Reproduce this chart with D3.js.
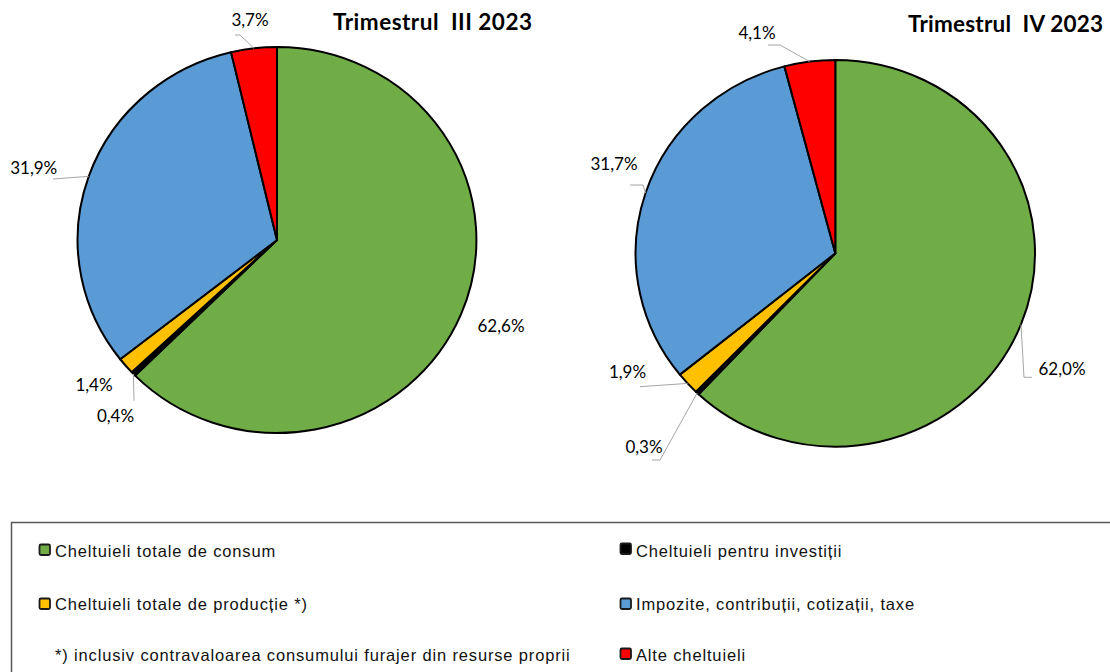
<!DOCTYPE html>
<html><head><meta charset="utf-8">
<script src="https://cdn.jsdelivr.net/npm/d3@7"></script>
<style>
html,body{margin:0;padding:0;background:#fff;}
svg{display:block;}
</style></head>
<body>
<svg id="chart" width="1110" height="672"></svg>
<script>
// ---------- data ----------
const categories = [
  "Cheltuieli totale de consum",
  "Cheltuieli pentru investiții",
  "Cheltuieli totale de producție *)",
  "Impozite, contribuții, cotizații, taxe",
  "Alte cheltuieli"
];
const seriesQ3 = [62.6, 0.4, 1.4, 31.9, 3.7];
const seriesQ4 = [62.0, 0.3, 1.9, 31.7, 4.1];
const titles = ["Trimestrul  III 2023", "Trimestrul  IV 2023"];
const footnote = "*) inclusiv contravaloarea consumului furajer din resurse proprii";
const colors = ["#70AD47", "#000000", "#FFC000", "#5B9BD5", "#FF0000"];

// ---------- layout ----------
const pies = [
  {values: seriesQ3, title: titles[0], cx: 277, cy: 240, rx: 199.4, ry: 193,
   titleX: 333, titleY: 29.5, titleW: 199,
   labels: [
     {dx: 224, dy: 91.5, leader: null},
     {dx: -161.5, dy: 181.5, leader: [[-143, 160.7]]},
     {dx: -183, dy: 150.5, leader: null},
     {dx: -243.3, dy: -66, leader: [[-224, -61]]},
     {dx: -27, dy: -214, leader: [[-37, -205], [-42, -205]]}
   ]},
  {values: seriesQ4, title: titles[1], cx: 835.3, cy: 253.3, rx: 199.7, ry: 193.3,
   titleX: 908, titleY: 31.5, titleW: 195,
   labels: [
     {dx: 226.7, dy: 121.7, leader: [[188.7, 124], [196.7, 124]]},
     {dx: -191.3, dy: 199.7, leader: [[-175.3, 206.7], [-183.3, 206.7]]},
     {dx: -207.8, dy: 124.7, leader: [[-195.3, 133.4]]},
     {dx: -221.3, dy: -83.3, leader: [[-192.3, -68.3], [-205.3, -68.3]]},
     {dx: -78.3, dy: -214.3, leader: [[-55.3, -208.3], [-67.3, -208.3]]}
   ]}
];

const svg = d3.select("#chart");
const fmt = v => d3.format(".1f")(v).replace(".", ",") + "%";

pies.forEach(p => {
  const r = p.ry;
  const sx = p.rx / p.ry;
  const pie = d3.pie().sort(null).value(d => d)(p.values);
  const arc = d3.arc().innerRadius(0).outerRadius(r);
  const g = svg.append("g").attr("transform", `translate(${p.cx},${p.cy})`);
  const gs = g.append("g").attr("transform", `scale(${sx},1)`);
  gs.selectAll("path").data(pie).join("path")
    .attr("d", arc)
    .attr("fill", (d, i) => colors[i])
    .attr("stroke", "#000")
    .attr("stroke-width", 2)
    .attr("stroke-linejoin", "round")
    .attr("vector-effect", "non-scaling-stroke");

  pie.forEach((d, i) => {
    const L = p.labels[i];
    const a = (d.startAngle + d.endAngle) / 2;
    const start = [Math.sin(a) * p.rx, -Math.cos(a) * p.ry];
    if (L.leader) {
      g.append("path")
        .attr("d", d3.line()([start, ...L.leader]))
        .attr("fill", "none")
        .attr("stroke", "#A6A6A6")
        .attr("stroke-width", 1);
    }
    g.append("text")
      .attr("x", L.dx).attr("y", L.dy)
      .attr("text-anchor", "middle")
      .attr("font-family", "Lato, 'Open Sans', sans-serif")
      .attr("font-size", 17)
      .attr("fill", "#000")
      .text(fmt(d.data));
  });

  svg.append("text")
    .attr("x", p.titleX).attr("y", p.titleY)
    .attr("font-family", "Lato, 'Open Sans', sans-serif")
    .attr("font-weight", "bold")
    .attr("font-size", 22.5)
    .attr("textLength", p.titleW)
    .attr("lengthAdjust", "spacing")
    .attr("fill", "#000")
    .style("white-space", "pre")
    .text(p.title);
});

// ---------- legend ----------
svg.append("rect")
  .attr("x", 11.5).attr("y", 522.5)
  .attr("width", 1200).attr("height", 200)
  .attr("fill", "none")
  .attr("stroke", "#595959")
  .attr("stroke-width", 1.5);

const legendItems = [
  {i: 0, x: 39.5, y: 544.5, tx: 55, ty: 556.5},
  {i: 2, x: 39.5, y: 598.5, tx: 55, ty: 610},
  {i: 1, x: 620.5, y: 543.5, tx: 636, ty: 556.5},
  {i: 3, x: 620.5, y: 598.5, tx: 636, ty: 610},
  {i: 4, x: 620.5, y: 648.5, tx: 636, ty: 661}
];
const lg = svg.append("g");
legendItems.forEach(it => {
  lg.append("rect")
    .attr("x", it.x).attr("y", it.y)
    .attr("width", 10.5).attr("height", 10.5)
    .attr("rx", 1.5)
    .attr("fill", colors[it.i])
    .attr("stroke", "#1a1a1a")
    .attr("stroke-width", 1.8);
  lg.append("text")
    .attr("x", it.tx).attr("y", it.ty)
    .attr("font-family", "'Liberation Sans', Arial, sans-serif")
    .attr("font-size", 16.5)
    .attr("letter-spacing", 0.85)
    .attr("fill", "#111")
    .text(categories[it.i]);
});
lg.append("text")
  .attr("x", 55).attr("y", 661)
  .attr("font-family", "'Liberation Sans', Arial, sans-serif")
  .attr("font-size", 16.5)
  .attr("letter-spacing", 0.85)
  .attr("fill", "#111")
  .text(footnote);
</script>
</body></html>
